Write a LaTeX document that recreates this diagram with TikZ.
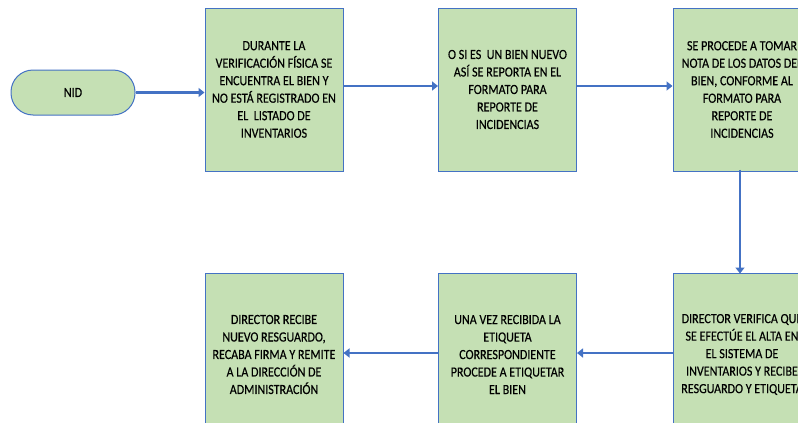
\documentclass[tikz,border=0pt]{standalone}
\usepackage{fontspec}
\setmainfont{Carlito}[FakeStretch=0.86,FakeBold=0.35]
\usetikzlibrary{arrows.meta}
\definecolor{boxfill}{HTML}{C5E0B4}
\definecolor{boxline}{HTML}{4472C4}
\definecolor{arrowc}{HTML}{4472C4}
\tikzset{
  stepbox/.style={draw=boxline, line width=1pt, fill=boxfill, minimum width=138pt, minimum height=163pt,
    inner sep=0pt, align=center, font=\fontsize{14}{17.5}\selectfont},
  pill/.style={draw=boxline, line width=1pt, fill=boxfill, rounded corners=22pt, minimum width=124pt, minimum height=45pt,
    inner sep=0pt, align=center, font=\fontsize{14}{17.5}\selectfont},
  flow/.style={draw=arrowc, line width=2.8pt, -{Triangle[length=6pt,width=9pt]}}
}
\begin{document}
\begin{tikzpicture}[x=1pt,y=-1pt]
\useasboundingbox (0,0) rectangle (798,423);
\clip (0,0) rectangle (798,423);
\node[pill] (nid) at (73,92.5) {NID};
\node[stepbox] (b1) at (274,89.5) {DURANTE LA\\VERIFICACIÓN FÍSICA SE\\ENCUENTRA EL BIEN Y\\NO ESTÁ REGISTRADO EN\\EL\ \ LISTADO DE\\INVENTARIOS};
\node[stepbox] (b2) at (507.5,89.5) {O SI ES\ \ UN BIEN NUEVO\\ASÍ SE REPORTA EN EL\\FORMATO PARA\\REPORTE DE\\INCIDENCIAS};
\node[stepbox] (b3) at (742,89.5) {SE PROCEDE A TOMAR\\NOTA DE LOS DATOS DEL\\BIEN, CONFORME AL\\FORMATO PARA\\REPORTE DE\\INCIDENCIAS};
\node[stepbox] (b4) at (742,354.5) {DIRECTOR VERIFICA QUE\\SE EFECTÚE EL ALTA EN\\EL SISTEMA DE\\INVENTARIOS Y RECIBE\\RESGUARDO Y ETIQUETA};
\node[stepbox] (b5) at (507.5,354.5) {UNA VEZ RECIBIDA LA\\ETIQUETA\\CORRESPONDIENTE\\PROCEDE A ETIQUETAR\\EL BIEN};
\node[stepbox] (b6) at (274,354.5) {DIRECTOR RECIBE\\NUEVO RESGUARDO,\\RECABA FIRMA Y REMITE\\A LA DIRECCIÓN DE\\ADMINISTRACIÓN};
\draw[flow] (nid.east) -- (nid.east -| b1.west);
\draw[flow] ([yshift=3.5pt]b1.east) -- ([yshift=3.5pt]b2.west);
\draw[flow] ([yshift=3.5pt]b2.east) -- ([yshift=3.5pt]b3.west);
\draw[flow] ([xshift=-2pt,yshift=2pt]b3.south) -- ([xshift=-2pt,yshift=-1pt]b4.north);
\draw[flow] ([yshift=1.5pt]b4.west) -- ([yshift=1.5pt]b5.east);
\draw[flow] ([yshift=1.5pt]b5.west) -- ([yshift=1.5pt]b6.east);
\end{tikzpicture}
\end{document}
